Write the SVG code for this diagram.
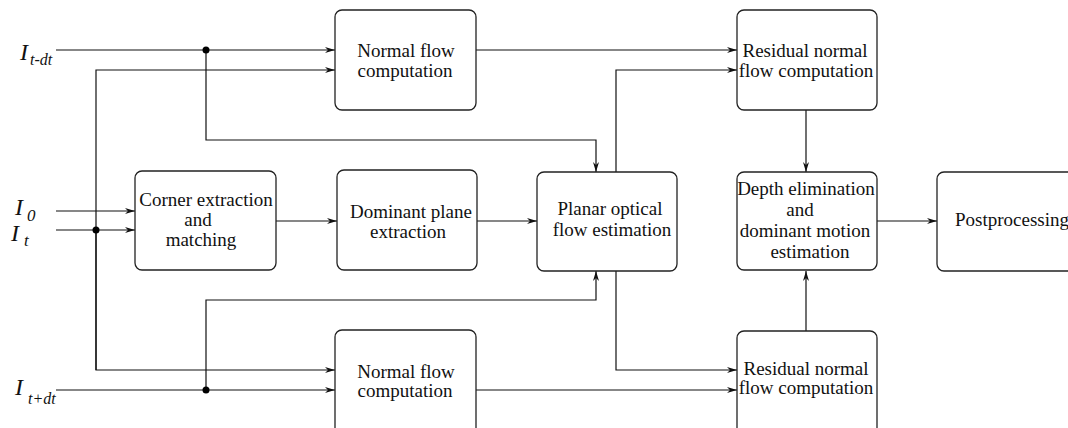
<svg xmlns="http://www.w3.org/2000/svg" width="1068" height="428" viewBox="0 0 1068 428">
<defs>
<style>
.box{fill:#fff;stroke:#222;stroke-width:1.3}
.t{font-family:"Liberation Serif","Times New Roman",serif;font-size:19px;fill:#111;text-anchor:middle}
.lbl{font-family:"Liberation Serif","Times New Roman",serif;font-style:italic;fill:#111}
.c{fill:none;stroke:#111;stroke-width:1.2}
.dot{fill:#000}
</style>
<marker id="ah" viewBox="0 0 10 6" refX="10" refY="3" markerWidth="10" markerHeight="6" markerUnits="userSpaceOnUse" orient="auto">
<path d="M0,0 L10,3 L0,6 L3,3 Z" fill="#111"/>
</marker>
</defs>
<rect width="1068" height="428" fill="#fff"/>

<g id="connectors">
<path class="c" d="M56,50 H335" marker-end="url(#ah)"/>
<path class="c" d="M206,50 V140 H596 V172" marker-end="url(#ah)"/>
<path class="c" d="M96,370 V70 H335" marker-end="url(#ah)"/>
<path class="c" d="M96,230 V370 H335" marker-end="url(#ah)"/>
<path class="c" d="M56,211 H135" marker-end="url(#ah)"/>
<path class="c" d="M56,230 H135" marker-end="url(#ah)"/>
<path class="c" d="M56,390 H335" marker-end="url(#ah)"/>
<path class="c" d="M206,390 V300 H596 V271" marker-end="url(#ah)"/>
<path class="c" d="M276,221 H337" marker-end="url(#ah)"/>
<path class="c" d="M477,221 H537" marker-end="url(#ah)"/>
<path class="c" d="M476,50 H737" marker-end="url(#ah)"/>
<path class="c" d="M476,390 H737" marker-end="url(#ah)"/>
<path class="c" d="M616,172 V70 H737" marker-end="url(#ah)"/>
<path class="c" d="M616,271 V370 H737" marker-end="url(#ah)"/>
<path class="c" d="M806,110 V172" marker-end="url(#ah)"/>
<path class="c" d="M806,331 V271" marker-end="url(#ah)"/>
<path class="c" d="M877,221 H937" marker-end="url(#ah)"/>
<circle class="dot" cx="206" cy="50" r="3.5"/>
<circle class="dot" cx="96" cy="230" r="3.5"/>
<circle class="dot" cx="206" cy="390" r="3.5"/>
</g>

<g id="labels">
<text class="lbl" x="20" y="60" font-size="24">I</text><text class="lbl" x="30" y="65" font-size="16">t-dt</text>
<text class="lbl" x="15" y="215" font-size="24">I</text><text class="lbl" x="27" y="221" font-size="17">0</text>
<text class="lbl" x="11" y="241" font-size="24">I</text><text class="lbl" x="24" y="246" font-size="17">t</text>
<text class="lbl" x="15" y="395" font-size="24">I</text><text class="lbl" x="28" y="404" font-size="16">t+dt</text>
</g>

<g id="normal-top">
<rect class="box" x="335" y="10" width="141" height="100" rx="7"/>
<text class="t" x="406" y="57">Normal flow</text>
<text class="t" x="405" y="77">computation</text>
</g>

<g id="corner">
<rect class="box" x="135" y="171" width="141" height="99" rx="7"/>
<text class="t" x="206" y="206">Corner extraction</text>
<text class="t" x="198" y="226">and</text>
<text class="t" x="201" y="246">matching</text>
</g>

<g id="dominant">
<rect class="box" x="337" y="170" width="140" height="100" rx="7"/>
<text class="t" x="411" y="218">Dominant plane</text>
<text class="t" x="408" y="238">extraction</text>
</g>

<g id="planar">
<rect class="box" x="537" y="172" width="140" height="99" rx="7"/>
<text class="t" x="610" y="215">Planar optical</text>
<text class="t" x="612" y="236">flow estimation</text>
</g>

<g id="residual-top">
<rect class="box" x="737" y="10" width="140" height="100" rx="7"/>
<text class="t" x="805" y="57">Residual normal</text>
<text class="t" x="806" y="77">flow computation</text>
</g>

<g id="depth">
<rect class="box" x="737" y="172" width="140" height="98" rx="7"/>
<text class="t" x="806" y="195">Depth elimination</text>
<text class="t" x="800" y="216">and</text>
<text class="t" x="805" y="237">dominant motion</text>
<text class="t" x="810" y="258">estimation</text>
</g>

<g id="post">
<rect class="box" x="937" y="172" width="150" height="99" rx="7"/>
<text class="t" x="955" y="226" style="text-anchor:start">Postprocessing</text>
</g>

<g id="residual-bottom">
<rect class="box" x="737" y="331" width="140" height="110" rx="7"/>
<text class="t" x="806" y="375">Residual normal</text>
<text class="t" x="806" y="394">flow computation</text>
</g>

<g id="normal-bottom">
<rect class="box" x="335" y="330" width="141" height="110" rx="7"/>
<text class="t" x="406" y="378">Normal flow</text>
<text class="t" x="405" y="397">computation</text>
</g>
</svg>
